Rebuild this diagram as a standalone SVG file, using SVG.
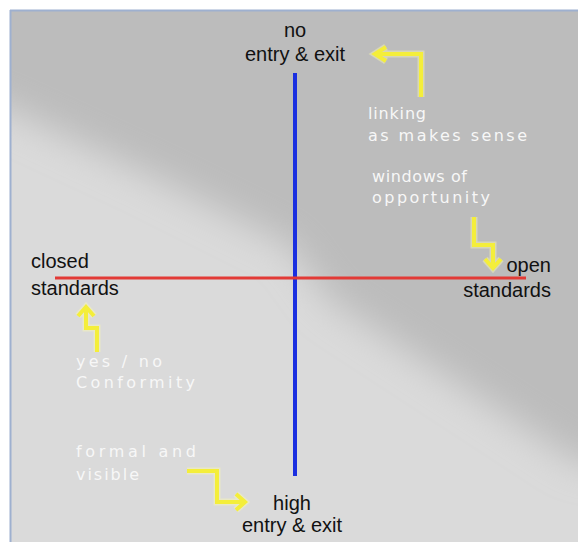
<svg xmlns="http://www.w3.org/2000/svg" width="578" height="542" viewBox="0 0 578 542">
<style>
.lbl{font-family:"Liberation Sans",Arial,sans-serif;font-size:20px;fill:#111}
.hand{font-family:"DejaVu Sans","Open Sans",sans-serif;font-size:16px;fill:#f7f7f7}
.yarrow{fill:none;stroke:#f4ee3a;stroke-width:4;stroke-linejoin:miter;stroke-linecap:butt}
.glow{fill:none;stroke:#fbf8b0;stroke-width:7;opacity:0.45}
</style>
<defs>
<filter id="soft" x="-20%" y="-20%" width="140%" height="140%">
<feGaussianBlur stdDeviation="18"/>
</filter>
<clipPath id="panel"><rect x="10" y="10" width="568" height="532"/></clipPath>
</defs>
<rect width="578" height="542" fill="#ffffff"/>
<g id="background" clip-path="url(#panel)">
<rect x="10" y="10" width="568" height="532" fill="#dadada"/>
<path d="M-40,-40 L640,-40 L640,470 L578,462 L330,300 L290,245 L150,175 L10,110 L-40,90 Z" fill="#bcbcbc" filter="url(#soft)"/>
</g>
<line x1="10.5" y1="10" x2="10.5" y2="542" stroke="#9eb0cf" stroke-width="2"/>
<line x1="10" y1="10.5" x2="578" y2="10.5" stroke="#9eb0cf" stroke-width="2"/>
<g id="connectors">
<line id="axis-v" x1="295" y1="73" x2="295" y2="476" stroke="#1a2fe0" stroke-width="4"/>
<line id="axis-h" x1="55" y1="278" x2="526" y2="278" stroke="#e23a36" stroke-width="3"/>
<g id="arrow-linking">
<path class="glow" d="M421,97 V54 H375 M386,47 L375,54 L386,61"/>
<path class="yarrow" d="M421,97 V54 H375 M386,47 L375,54 L386,61"/>
</g>
<g id="arrow-windows">
<path class="glow" d="M474,217 V245 H493 V268 M485,259 L493,268 L501,259"/>
<path class="yarrow" d="M474,217 V245 H493 V268 M485,259 L493,268 L501,259"/>
</g>
<g id="arrow-conformity">
<path class="glow" d="M97,352 V328 H86 V307 M78,316 L86,307 L94,316"/>
<path class="yarrow" d="M97,352 V328 H86 V307 M78,316 L86,307 L94,316"/>
</g>
<g id="arrow-formal">
<path class="glow" d="M187,471 H217 V502 H245 M236,494 L245,502 L236,510"/>
<path class="yarrow" d="M187,471 H217 V502 H245 M236,494 L245,502 L236,510"/>
</g>
</g>
<g id="node-no-entry">
<text class="lbl" x="295" y="37" text-anchor="middle">no</text>
<text class="lbl" x="295" y="61" text-anchor="middle">entry &amp; exit</text>
</g>
<g id="node-high-entry">
<text class="lbl" x="292" y="510" text-anchor="middle">high</text>
<text class="lbl" x="292" y="532" text-anchor="middle">entry &amp; exit</text>
</g>
<g id="node-closed">
<text class="lbl" x="31" y="268">closed</text>
<text class="lbl" x="31" y="295">standards</text>
</g>
<g id="node-open">
<text class="lbl" x="551" y="272" text-anchor="end">open</text>
<text class="lbl" x="551" y="297" text-anchor="end">standards</text>
</g>
<g id="note-linking">
<text class="hand" x="368" y="119" textLength="58" lengthAdjust="spacing">linking</text>
<text class="hand" x="368" y="141" textLength="159" lengthAdjust="spacing">as makes sense</text>
</g>
<g id="note-windows">
<text class="hand" x="372" y="182" textLength="95" lengthAdjust="spacing">windows of</text>
<text class="hand" x="372" y="203" textLength="118" lengthAdjust="spacing">opportunity</text>
</g>
<g id="note-conformity">
<text class="hand" x="76" y="367" textLength="86" lengthAdjust="spacing">yes / no</text>
<text class="hand" x="76" y="388" textLength="119" lengthAdjust="spacing">Conformity</text>
</g>
<g id="note-formal">
<text class="hand" x="76" y="457" textLength="120" lengthAdjust="spacing">formal and</text>
<text class="hand" x="76" y="480" textLength="63" lengthAdjust="spacing">visible</text>
</g>
</svg>
